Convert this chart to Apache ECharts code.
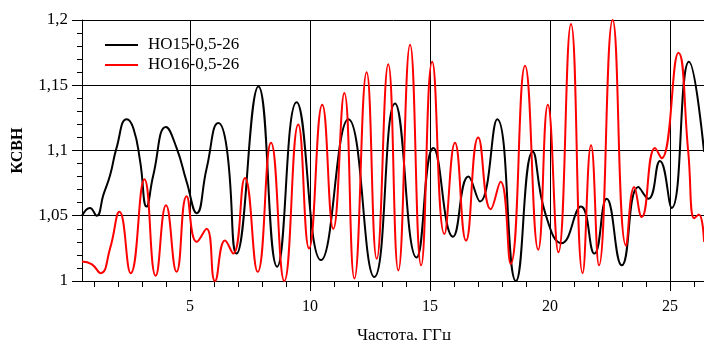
<!DOCTYPE html>
<html>
<head>
<meta charset="utf-8">
<script src="https://cdn.jsdelivr.net/npm/echarts@6.0.0/dist/echarts.min.js"></script>
<style>
  html, body { margin: 0; padding: 0; background: #fff; }
  #chart { width: 704px; height: 340px; }
</style>
</head>
<body>
<div id="chart"></div>
<script>
// НО15-0,5-26 (black)
const freq15 = [0.5, 0.83, 1.11, 1.39, 1.67, 1.94, 2.36, 2.64, 2.92, 3.19, 3.47, 4.0, 4.44, 4.86, 5.28, 5.69, 6.18, 6.53, 6.94,
  7.85, 8.63, 9.44, 10.46, 11.6, 12.68, 13.54, 14.44, 15.14, 15.96, 16.6, 17.08, 17.8, 18.58, 19.28, 19.8, 20.49,
  21.29, 21.85, 22.36, 22.99, 23.68, 24.1, 24.58, 25.07, 25.79, 26.42];
const ksvn15 = [1.050, 1.056, 1.050, 1.066, 1.081, 1.102, 1.124, 1.117, 1.092, 1.057, 1.081, 1.118, 1.102, 1.076, 1.052, 1.086, 1.121, 1.102, 1.021,
  1.149, 1.011, 1.137, 1.016, 1.124, 1.003, 1.136, 1.018, 1.102, 1.034, 1.080, 1.061, 1.124, 1.000, 1.099, 1.052, 1.029,
  1.057, 1.021, 1.063, 1.012, 1.072, 1.063, 1.092, 1.056, 1.168, 1.099];

// НО16-0,5-26 (red)
const freq16 = [0.5, 0.9, 1.28, 1.67, 2.06, 2.53, 3.10, 3.57, 4.0, 4.44, 4.86, 5.28, 5.69, 6.04, 6.46, 6.8, 7.29, 7.82,
  8.375, 8.93, 9.51, 9.96, 10.51, 10.97, 11.43, 11.85, 12.36, 12.78, 13.26, 13.68, 14.17, 14.63, 15.09, 15.6, 16.04,
  16.5, 17.01, 17.53, 17.94, 18.36, 18.96, 19.51, 19.91, 20.35, 20.875, 21.36, 21.71, 22.04, 22.61, 23.17, 23.51,
  23.82, 24.375, 24.65, 25.35, 25.76, 26.01, 26.2, 26.42];
const ksvn16 = [1.015, 1.013, 1.006, 1.025, 1.053, 1.006, 1.078, 1.004, 1.058, 1.007, 1.065, 1.030, 1.040, 1.000, 1.031, 1.021, 1.079, 1.007,
  1.106, 1.000, 1.120, 1.025, 1.135, 1.040, 1.144, 1.002, 1.160, 1.017, 1.166, 1.008, 1.181, 1.012, 1.168, 1.036, 1.106,
  1.031, 1.110, 1.055, 1.076, 1.013, 1.165, 1.024, 1.135, 1.022, 1.197, 1.006, 1.104, 1.012, 1.200, 1.027, 1.072,
  1.049, 1.102, 1.094, 1.175, 1.099, 1.048, 1.051, 1.030];

const seriesNames = ['НО15-0,5-26', 'НО16-0,5-26'];
const xMajorTicks = [5, 10, 15, 20, 25];
const xMinorTicks = [1, 2, 3, 4, 6, 7, 8, 9, 11, 12, 13, 14, 16, 17, 18, 19, 21, 22, 23, 24, 26];

const font = '"Liberation Serif", "DejaVu Serif", serif';
const chart = echarts.init(document.getElementById('chart'), null, { renderer: 'canvas' });

const option = {
  backgroundColor: '#fff',
  animation: false,
  grid: { left: 82, top: 20, width: 624, height: 261, outerBoundsMode: 'none', containLabel: false },
  legend: {
    data: seriesNames,
    orient: 'vertical',
    left: 100,
    top: 31,
    icon: 'rect',
    itemWidth: 33,
    itemHeight: 2,
    itemGap: 2,
    textStyle: { fontFamily: font, fontSize: 17, color: '#000', padding: [0, 0, 0, 5], lineHeight: 18 },
  },
  xAxis: [
    {
      type: 'value',
      min: 0.5,
      max: 26.5,
      name: 'Частота, ГГц',
      nameLocation: 'middle',
      nameGap: 46,
      nameTextStyle: { fontFamily: font, fontSize: 17, color: '#000', padding: [0, 0, 0, 20] },
      axisLine: { lineStyle: { color: '#000', width: 1 } },
      axisTick: { customValues: xMajorTicks, length: 10, lineStyle: { color: '#000' } },
      axisLabel: { customValues: xMajorTicks, fontFamily: font, fontSize: 16, color: '#000', margin: 18 },
      splitLine: { show: true, lineStyle: { color: '#000', width: 1 } },
    },
    {
      type: 'value',
      min: 0.5,
      max: 26.5,
      position: 'bottom',
      axisLine: { show: false },
      axisTick: { customValues: xMinorTicks, length: 6, lineStyle: { color: '#000' } },
      axisLabel: { show: false },
      splitLine: { show: false },
    },
  ],
  yAxis: {
    type: 'value',
    min: 1,
    max: 1.2,
    interval: 0.05,
    name: 'КСВН',
    nameLocation: 'middle',
    nameGap: 56,
    nameTextStyle: { fontFamily: font, fontSize: 16, fontWeight: 'bold', color: '#000' },
    axisLine: { show: true, lineStyle: { color: '#000', width: 1 } },
    axisTick: { show: true, length: 10, lineStyle: { color: '#000' } },
    minorTick: { show: true, splitNumber: 5, length: 5, lineStyle: { color: '#000' } },
    axisLabel: {
      fontFamily: font, fontSize: 17, color: '#000', margin: 14,
      formatter: (v) => String(+v.toFixed(2)).replace('.', ','),
    },
    splitLine: { show: true, lineStyle: { color: '#000', width: 1 } },
  },
  series: [
    {
      name: seriesNames[0],
      type: 'line',
      smooth: 0.5,
      symbol: 'none',
      lineStyle: { color: '#000', width: 2 },
      itemStyle: { color: '#000' },
      data: freq15.map((f, i) => [f, ksvn15[i]]),
    },
    {
      name: seriesNames[1],
      type: 'line',
      smooth: 0.5,
      symbol: 'none',
      lineStyle: { color: '#ff0000', width: 2 },
      itemStyle: { color: '#ff0000' },
      data: freq16.map((f, i) => [f, ksvn16[i]]),
    },
  ],
};

chart.setOption(option);
</script>
</body>
</html>
